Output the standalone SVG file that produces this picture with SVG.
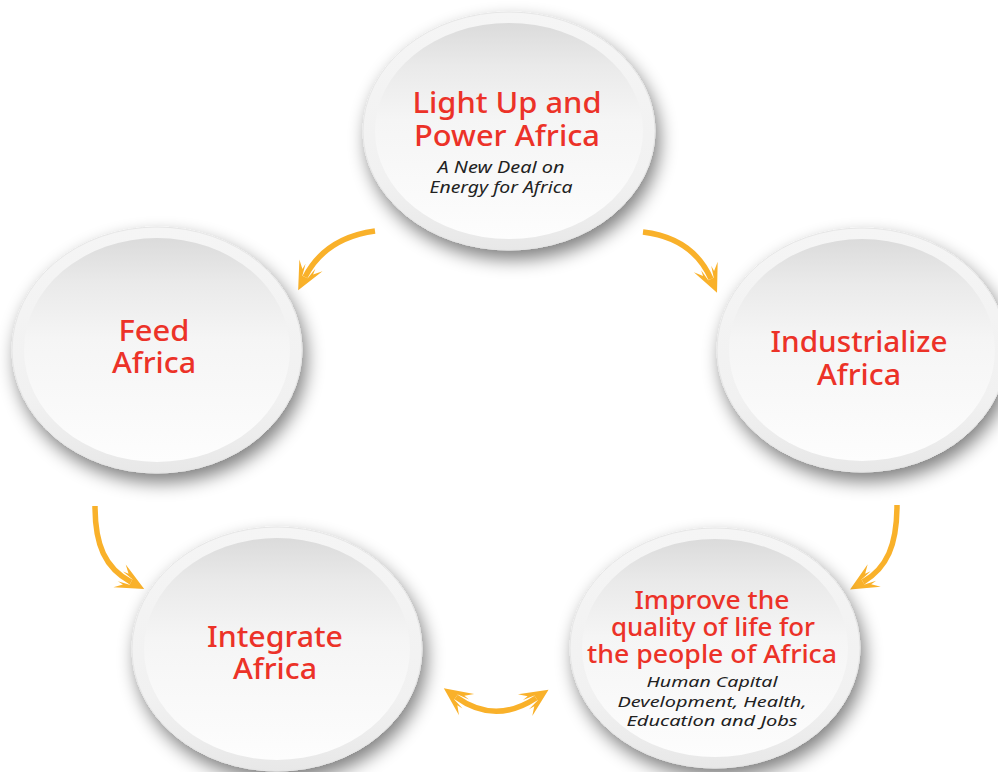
<svg xmlns="http://www.w3.org/2000/svg" width="998" height="772" viewBox="0 0 998 772">
  <defs>
    <style>
      .rim { fill: url(#rimGrad); stroke: #e6e6e6; stroke-width: 1; }
      .face { fill: url(#faceGrad); }
      .title { font-family: "Noto Sans", "Liberation Sans", sans-serif; font-weight: 500; font-size: 28px; fill: #ec3228; text-anchor: middle; }
      .title-tight { font-family: "Noto Sans", "Liberation Sans", sans-serif; font-weight: 500; font-size: 26px; fill: #ec3228; text-anchor: middle; }
      .sub { font-family: "Noto Sans", "Liberation Sans", sans-serif; font-style: italic; font-size: 16px; fill: #222222; text-anchor: middle; }
      .sub-small { font-family: "Noto Sans", "Liberation Sans", sans-serif; font-style: italic; font-size: 15px; fill: #222222; text-anchor: middle; }
      .arrow { fill: none; stroke: #f9b12a; stroke-width: 5.5; stroke-linecap: butt; }
    </style>
    <linearGradient id="rimGrad" x1="0" y1="0" x2="0" y2="1">
      <stop offset="0" stop-color="#f5f5f5"/>
      <stop offset="0.7" stop-color="#f1f1f1"/>
      <stop offset="1" stop-color="#e8e8e8"/>
    </linearGradient>
    <linearGradient id="faceGrad" x1="0" y1="0" x2="0" y2="1">
      <stop offset="0" stop-color="#dbdbdb"/>
      <stop offset="0.2" stop-color="#eaeaea"/>
      <stop offset="0.45" stop-color="#f5f5f5"/>
      <stop offset="1" stop-color="#fdfdfd"/>
    </linearGradient>
    <filter id="shadow" x="-30%" y="-30%" width="160%" height="170%">
      <feGaussianBlur in="SourceAlpha" stdDeviation="9"/>
      <feOffset dx="4" dy="9" result="blur"/>
      <feComponentTransfer>
        <feFuncA type="linear" slope="0.5"/>
      </feComponentTransfer>
      <feMerge>
        <feMergeNode/>
        <feMergeNode in="SourceGraphic"/>
      </feMerge>
    </filter>
    <!-- barbed arrowhead, tip 15px ahead of the path end -->
    <marker id="head" markerUnits="userSpaceOnUse" markerWidth="44" markerHeight="44" refX="0" refY="0" orient="auto-start-reverse" overflow="visible">
      <path d="M15,0 L-13,-13 L-6,-6 L-12,-5.5 L0,-3 L0,3 L-12,5.5 L-6,6 L-13,13 Z" fill="#f9b12a"/>
    </marker>
  </defs>

  <rect width="998" height="772" fill="#ffffff"/>

  <g id="connectors">
    <path class="arrow" d="M375,231 Q325,238 305,277" marker-end="url(#head)"/>
    <path class="arrow" d="M643,232 Q693,238 711,279" marker-end="url(#head)"/>
    <path class="arrow" d="M95,506 C95,545 105,568 131,582" marker-end="url(#head)"/>
    <path class="arrow" d="M897,505 C897,545 887,568 863,582" marker-end="url(#head)"/>
    <path class="arrow" d="M456,697 Q495,725 536,698" marker-start="url(#head)" marker-end="url(#head)"/>
  </g>

  <g id="light-up">
    <ellipse class="rim" cx="509" cy="131" rx="146" ry="119" filter="url(#shadow)"/>
    <ellipse class="face" cx="509" cy="131" rx="134" ry="108"/>
    <text class="title" x="507" y="113" textLength="189" lengthAdjust="spacingAndGlyphs">Light Up and</text>
    <text class="title" x="507" y="146" textLength="186" lengthAdjust="spacingAndGlyphs">Power Africa</text>
    <text class="sub" x="501" y="173" textLength="127" lengthAdjust="spacingAndGlyphs">A New Deal on</text>
    <text class="sub" x="501" y="193" textLength="143" lengthAdjust="spacingAndGlyphs">Energy for Africa</text>
  </g>

  <g id="feed">
    <ellipse class="rim" cx="157" cy="350" rx="145" ry="123" filter="url(#shadow)"/>
    <ellipse class="face" cx="157" cy="350" rx="133" ry="112"/>
    <text class="title" x="154" y="341" textLength="71" lengthAdjust="spacingAndGlyphs">Feed</text>
    <text class="title" x="154" y="373" textLength="84" lengthAdjust="spacingAndGlyphs">Africa</text>
  </g>

  <g id="industrialize">
    <ellipse class="rim" cx="862" cy="350" rx="145" ry="122" filter="url(#shadow)"/>
    <ellipse class="face" cx="862" cy="350" rx="133" ry="111"/>
    <text class="title" x="859" y="352" textLength="177" lengthAdjust="spacingAndGlyphs">Industrialize</text>
    <text class="title" x="859" y="385" textLength="84" lengthAdjust="spacingAndGlyphs">Africa</text>
  </g>

  <g id="integrate">
    <ellipse class="rim" cx="277" cy="649" rx="145" ry="122" filter="url(#shadow)"/>
    <ellipse class="face" cx="277" cy="649" rx="133" ry="111"/>
    <text class="title" x="275" y="647" textLength="136" lengthAdjust="spacingAndGlyphs">Integrate</text>
    <text class="title" x="275" y="679" textLength="84" lengthAdjust="spacingAndGlyphs">Africa</text>
  </g>

  <g id="improve">
    <ellipse class="rim" cx="715" cy="648" rx="145" ry="120" filter="url(#shadow)"/>
    <ellipse class="face" cx="715" cy="648" rx="133" ry="109"/>
    <text class="title-tight" x="712" y="609" textLength="155" lengthAdjust="spacingAndGlyphs">Improve the</text>
    <text class="title-tight" x="713" y="636" textLength="204" lengthAdjust="spacingAndGlyphs">quality of life for</text>
    <text class="title-tight" x="712" y="663" textLength="250" lengthAdjust="spacingAndGlyphs">the people of Africa</text>
    <text class="sub-small" x="712" y="687" textLength="131" lengthAdjust="spacingAndGlyphs">Human Capital</text>
    <text class="sub-small" x="712" y="707" textLength="189" lengthAdjust="spacingAndGlyphs">Development, Health,</text>
    <text class="sub-small" x="712" y="726" textLength="171" lengthAdjust="spacingAndGlyphs">Education and Jobs</text>
  </g>
</svg>
